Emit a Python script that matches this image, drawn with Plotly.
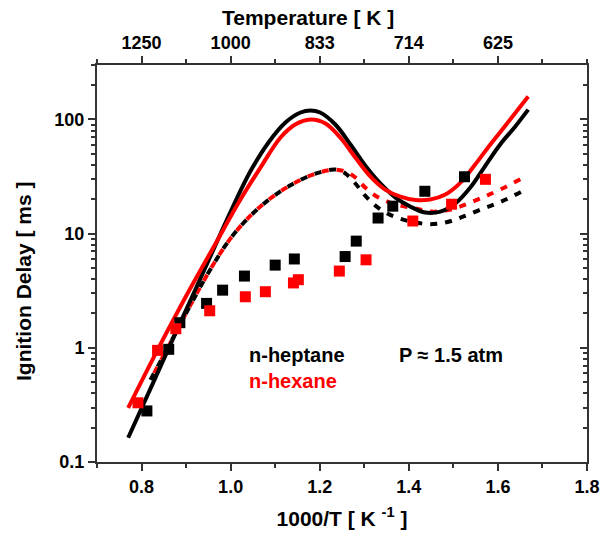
import plotly.graph_objects as go

# Shock-tube ignition delays (1000/T in 1/K, delay in ms)
heptane_x = [0.812, 0.861, 0.886, 0.946, 0.982, 1.031, 1.100, 1.143, 1.257, 1.282, 1.331, 1.364, 1.436, 1.525]
heptane_y = [0.28, 0.97, 1.66, 2.45, 3.2, 4.25, 5.3, 6.0, 6.3, 8.6, 13.7, 17.4, 23.5, 31.5]

hexane_x = [0.792, 0.836, 0.877, 0.953, 1.033, 1.078, 1.141, 1.152, 1.244, 1.304, 1.409, 1.496, 1.572]
hexane_y = [0.33, 0.95, 1.47, 2.11, 2.8, 3.1, 3.7, 3.95, 4.7, 5.9, 12.9, 18.1, 29.9]

# Model predictions: mechanism A (solid lines)
heptane_a_x = [0.770, 0.831, 0.887, 0.943, 0.999, 1.044, 1.085, 1.123, 1.157, 1.179, 1.201, 1.235, 1.269,
               1.302, 1.336, 1.370, 1.403, 1.437, 1.471, 1.504, 1.538, 1.572, 1.605, 1.639, 1.668]
heptane_a_y = [0.163, 0.546, 1.66, 5.03, 15.3, 35.0, 62.9, 94.1, 115, 120, 115, 90.3, 60.4,
               39.5, 27.5, 20.7, 17.3, 15.3, 15.6, 18.3, 25.3, 39.5, 60.4, 86.9, 122]

hexane_a_x = [0.770, 0.836, 0.909, 0.966, 1.022, 1.067, 1.112, 1.145, 1.179, 1.213, 1.246, 1.280, 1.314,
              1.347, 1.381, 1.415, 1.448, 1.482, 1.516, 1.549, 1.583, 1.617, 1.668]
hexane_a_y = [0.298, 0.96, 3.29, 8.17, 19.9, 37.9, 69.5, 90.3, 100, 92.3, 69.5, 46.4, 31.6,
              24.3, 21.1, 19.7, 19.9, 22.0, 28.0, 40.3, 60.4, 88.5, 159]

# Model predictions: mechanism B (dotted lines)
heptane_b_x = [0.820, 0.865, 0.909, 0.954, 0.999, 1.044, 1.089, 1.134, 1.179, 1.213, 1.235, 1.258, 1.280,
               1.302, 1.325, 1.352, 1.381, 1.415, 1.448, 1.482, 1.516, 1.560, 1.605, 1.666]
heptane_b_y = [0.524, 1.107, 2.34, 4.83, 9.0, 14.3, 20.3, 26.5, 32.3, 35.5, 36.4, 33.6, 27.5,
               21.5, 17.6, 15.0, 13.5, 12.5, 12.1, 12.5, 13.8, 16.2, 18.9, 24.8]

hexane_b_x = [0.820, 0.865, 0.909, 0.954, 0.999, 1.044, 1.089, 1.134, 1.179, 1.213, 1.235, 1.258, 1.280,
              1.302, 1.325, 1.352, 1.381, 1.415, 1.448, 1.482, 1.516, 1.560, 1.605, 1.666]
hexane_b_y = [0.524, 1.107, 2.34, 4.83, 9.0, 14.3, 20.3, 26.5, 32.3, 35.5, 36.4, 35.0, 31.0,
              25.3, 21.5, 19.1, 17.6, 16.6, 15.6, 15.9, 17.3, 20.3, 24.3, 32.3]

# Axis ticks
x_ticks = [0.8, 1.0, 1.2, 1.4, 1.6, 1.8]
temp_tickvals = [0.8, 1.0, 1.2, 1.4, 1.6]
temp_ticktext = ["1250", "1000", "833", "714", "625"]
temp_minor = [0.7, 0.9, 1.1, 1.3, 1.5, 1.7, 1.8]
y_ticks = [0.1, 1, 10, 100]
y_ticktext = ["0.1", "1", "10", "100"]
y_minor = [m * 10 ** e for e in (-1, 0, 1) for m in range(2, 10)] + [200, 300]

BLACK = "#000000"
RED = "#ff0000"
AXIS = "#333333"
FONT = "Liberation Sans, Arial, sans-serif"

fig = go.Figure()

# dotted model curves share a path, so the red dashes sit in the black gaps
fig.add_trace(go.Scatter(x=heptane_b_x, y=heptane_b_y, mode="lines", line_shape="spline",
                         line=dict(color=BLACK, width=4, dash="7px,8px"), showlegend=False))
fig.add_trace(go.Scatter(x=hexane_b_x, y=hexane_b_y, mode="lines", line_shape="spline",
                         line=dict(color=RED, width=4, dash="0px,7.5px,7px,0.5px"), showlegend=False))
fig.add_trace(go.Scatter(x=heptane_a_x, y=heptane_a_y, mode="lines", line_shape="spline",
                         line=dict(color=BLACK, width=4), showlegend=False))
fig.add_trace(go.Scatter(x=hexane_a_x, y=hexane_a_y, mode="lines", line_shape="spline",
                         line=dict(color=RED, width=4), showlegend=False))
fig.add_trace(go.Scatter(x=heptane_x, y=heptane_y, mode="markers",
                         marker=dict(symbol="square", size=11, color=BLACK), showlegend=False))
fig.add_trace(go.Scatter(x=hexane_x, y=hexane_y, mode="markers",
                         marker=dict(symbol="square", size=11, color=RED), showlegend=False))
# companion axes (temperature on top, mirrored log scale on the right)
fig.add_trace(go.Scatter(x=[None], y=[None], xaxis="x2", yaxis="y2", showlegend=False, hoverinfo="skip"))

tickfont = dict(family=FONT, size=18, color=BLACK, weight="bold")
titlefont = dict(family=FONT, size=21, color=BLACK, weight="bold")
notefont = dict(family=FONT, size=20, weight="bold")

fig.update_layout(
    width=605, height=544,
    margin=dict(l=97, r=18, t=65, b=82),
    plot_bgcolor="white", paper_bgcolor="white",
    xaxis=dict(
        range=[0.7, 1.8], tickmode="array", tickvals=x_ticks, tickformat=".1f",
        ticks="outside", ticklen=7, tickwidth=2, tickcolor=AXIS,
        minor=dict(ticks="outside", dtick=0.1, tick0=0.7, ticklen=4, tickwidth=2, tickcolor=AXIS),
        showline=True, linewidth=2, linecolor=AXIS, showgrid=False, zeroline=False,
        tickfont=tickfont, automargin=False,
        title=dict(text="1000/T [ K <sup>-1</sup> ]", font=titlefont, standoff=16),
    ),
    xaxis2=dict(
        overlaying="x", side="top", anchor="y", range=[0.7, 1.8],
        tickmode="array", tickvals=temp_tickvals, ticktext=temp_ticktext,
        ticks="outside", ticklen=7, tickwidth=2, tickcolor=AXIS,
        minor=dict(ticks="outside", tickmode="array", tickvals=temp_minor, ticklen=4, tickwidth=2,
                   tickcolor=AXIS),
        showline=True, linewidth=2, linecolor=AXIS, showgrid=False, zeroline=False,
        tickfont=tickfont, automargin=False,
    ),
    yaxis=dict(
        type="log", range=[-1, 2.477], tickmode="array", tickvals=y_ticks, ticktext=y_ticktext,
        ticks="outside", ticklen=7, tickwidth=2, tickcolor=AXIS,
        minor=dict(ticks="outside", tickmode="array", tickvals=y_minor, ticklen=4, tickwidth=2,
                   tickcolor=AXIS),
        showline=True, linewidth=2, linecolor=AXIS, showgrid=False, zeroline=False,
        tickfont=tickfont, automargin=False,
    ),
    yaxis2=dict(
        type="log", overlaying="y", side="right", anchor="x", range=[-1, 2.477],
        tickmode="array", tickvals=y_ticks, showticklabels=False,
        ticks="inside", ticklen=7, tickwidth=2, tickcolor=AXIS,
        minor=dict(ticks="inside", tickmode="array", tickvals=y_minor, ticklen=4, tickwidth=2,
                   tickcolor=AXIS),
        showline=True, linewidth=2, linecolor=AXIS, showgrid=False, zeroline=False,
    ),
    annotations=[
        # axis titles for the temperature scale and the delay scale
        dict(text="Temperature [ K ]", xref="paper", yref="paper", x=0.431, y=1.0, yshift=48,
             xanchor="center", yanchor="middle", showarrow=False, font=titlefont),
        dict(text="Ignition Delay [ ms ]", xref="paper", yref="paper", x=0.0, xshift=-73, y=0.456,
             xanchor="center", yanchor="middle", textangle=-90, showarrow=False, font=titlefont),
        dict(text="n-heptane", xref="paper", yref="paper", x=0.306, y=0.2695, xanchor="left",
             yanchor="middle", showarrow=False, font=dict(notefont, color=BLACK)),
        dict(text="n-hexane", xref="paper", yref="paper", x=0.306, y=0.204, xanchor="left",
             yanchor="middle", showarrow=False, font=dict(notefont, color=RED)),
        dict(text="P \u2248 1.5 atm", xref="paper", yref="paper", x=0.612, y=0.2695, xanchor="left",
             yanchor="middle", showarrow=False, font=dict(notefont, color=BLACK)),
    ],
)

fig.write_html("out.html")
